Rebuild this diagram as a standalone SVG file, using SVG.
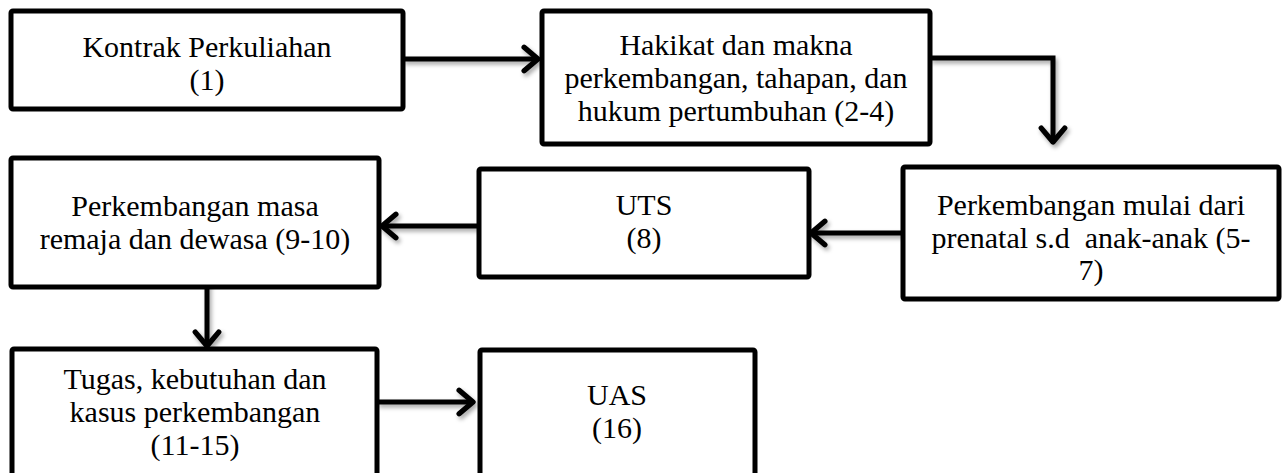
<svg xmlns="http://www.w3.org/2000/svg" width="1288" height="473" viewBox="0 0 1288 473">
<defs>
<style>
.box{fill:#fff;stroke:#000;stroke-width:5;stroke-linejoin:round}
.lbl{font-family:"Liberation Serif","Times New Roman",serif;font-size:30px;fill:#000;text-anchor:middle}
.conn{fill:none;stroke:#000;stroke-width:5;stroke-linejoin:miter}
</style>
<filter id="sh" x="-20%" y="-20%" width="140%" height="160%">
<feDropShadow dx="2" dy="3" stdDeviation="2" flood-color="#000" flood-opacity="0.35"/>
</filter>
<marker id="ah" markerUnits="userSpaceOnUse" markerWidth="32" markerHeight="32" viewBox="-17 -15 22 30" refX="0" refY="0" orient="auto">
<path d="M -13 -11 L 0 0 L -13 11" fill="none" stroke="#000" stroke-width="5" stroke-linecap="round" stroke-linejoin="round"/>
</marker>
</defs>
<rect width="1288" height="473" fill="#fff"/>
<g id="connectors" filter="url(#sh)">
<path class="conn" d="M403 59 H538" marker-end="url(#ah)"/>
<path class="conn" d="M930 58 H1053 V142" marker-end="url(#ah)"/>
<path class="conn" d="M903 233 H811" marker-end="url(#ah)"/>
<path class="conn" d="M479 226 H382" marker-end="url(#ah)"/>
<path class="conn" d="M207 277 V346" marker-end="url(#ah)"/>
<path class="conn" d="M377 402 H473" marker-end="url(#ah)"/>
</g>
<g id="n1">
<rect class="box" x="11" y="11" width="392" height="98" rx="2"/>
<text class="lbl" x="207" y="57">Kontrak Perkuliahan</text>
<text class="lbl" x="207" y="90">(1)</text>
</g>
<g id="n2">
<rect class="box" x="542" y="11" width="388" height="133" rx="2"/>
<text class="lbl" x="736" y="55">Hakikat dan makna</text>
<text class="lbl" x="736" y="88">perkembangan, tahapan, dan</text>
<text class="lbl" x="736" y="121">hukum pertumbuhan (2-4)</text>
</g>
<g id="n3">
<rect class="box" x="903" y="167" width="376" height="132" rx="2"/>
<text class="lbl" x="1091" y="215">Perkembangan mulai dari</text>
<text class="lbl" x="1091" y="248" xml:space="preserve">prenatal s.d  anak-anak (5-</text>
<text class="lbl" x="1091" y="280">7)</text>
</g>
<g id="n4">
<rect class="box" x="479" y="169" width="330" height="108" rx="2"/>
<text class="lbl" x="644" y="215">UTS</text>
<text class="lbl" x="644" y="248">(8)</text>
</g>
<g id="n5">
<rect class="box" x="11" y="158" width="368" height="129" rx="2"/>
<text class="lbl" x="195" y="216">Perkembangan masa</text>
<text class="lbl" x="195" y="249">remaja dan dewasa (9-10)</text>
</g>
<g id="n6">
<rect class="box" x="12" y="349" width="365" height="135" rx="2"/>
<text class="lbl" x="195" y="389">Tugas, kebutuhan dan</text>
<text class="lbl" x="195" y="422">kasus perkembangan</text>
<text class="lbl" x="195" y="455">(11-15)</text>
</g>
<g id="n7">
<rect class="box" x="480" y="350" width="275" height="134" rx="2"/>
<text class="lbl" x="617" y="405">UAS</text>
<text class="lbl" x="617" y="438">(16)</text>
</g>
</svg>
